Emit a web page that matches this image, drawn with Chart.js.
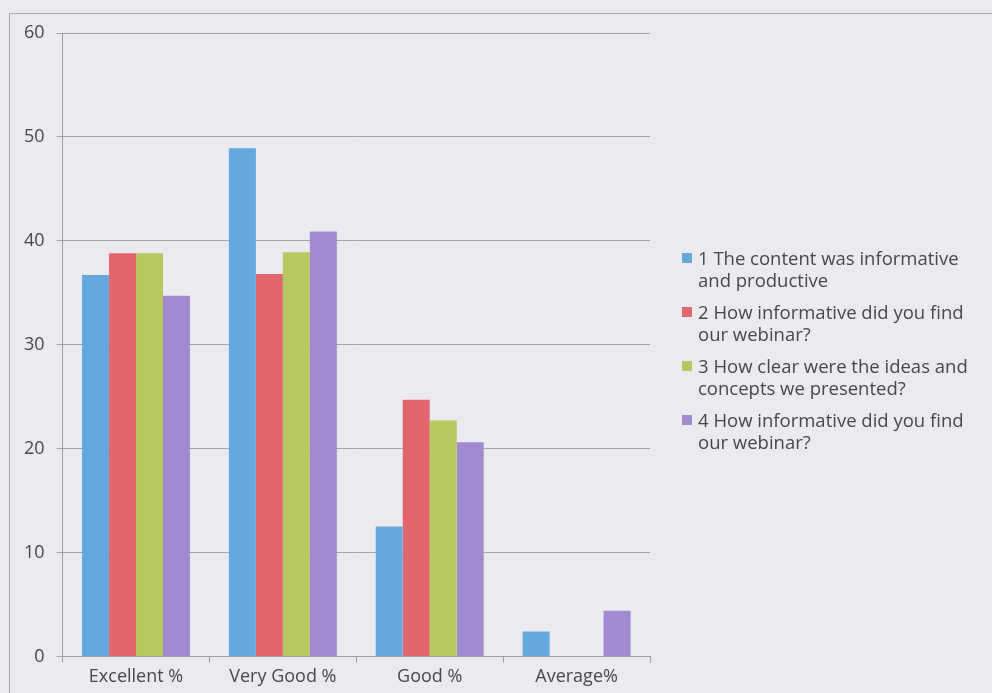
<!DOCTYPE html>
<html>
<head>
<meta charset="utf-8">
<script src="https://cdn.jsdelivr.net/npm/chart.js@4.4.1/dist/chart.umd.min.js"></script>
<style>
    html, body { margin: 0; padding: 0; background: #ebeaef; }
    #wrap { position: relative; width: 992px; height: 693px; overflow: hidden; }
    #frame { position: absolute; left: 9px; top: 13px; width: 1000px; height: 700px; border-left: 1px solid #a9a9b0; border-top: 1px solid #a9a9b0; }
    #chartCanvas { position: absolute; left: 0; top: 0; }
    #legend { position: absolute; left: 682px; top: 247px; width: 298px; font-family: "Open Sans", sans-serif; font-size: 18.5px; color: #47474c; }
    .item { display: flex; align-items: flex-start; margin-bottom: 10px; line-height: 22px; }
    .box { width: 10px; height: 10px; margin-top: 6px; margin-right: 6px; flex: none; }
</style>
</head>
<body>
<div id="wrap">
    <div id="frame"></div>
    <canvas id="chartCanvas" width="992" height="693"></canvas>
    <div id="legend"></div>
</div>
<script>
// Survey ratings per question
const categories = ['Excellent %', 'Very Good %', 'Good %', 'Average%'];
const seriesNames = [
    '1 The content was informative and productive',
    '2 How informative did you find our webinar?',
    '3 How clear were the ideas and concepts we presented?',
    '4 How informative did you find our webinar?'
];
const q1Values = [36.7, 48.9, 12.5, 2.4];
const q2Values = [38.8, 36.8, 24.7, 0];
const q3Values = [38.8, 38.9, 22.7, 0];
const q4Values = [34.7, 40.9, 20.6, 4.4];
const seriesColors = ['#63a9dd', '#e3666f', '#b6c85f', '#a18ad0'];

const allValues = [q1Values, q2Values, q3Values, q4Values];

document.addEventListener('DOMContentLoaded', function() {
    createSurveyChart();
    buildLegend();
});

function createSurveyChart() {
    const ctx = document.getElementById('chartCanvas');
    if (!ctx) {
        console.error("chartCanvas not found");
        return;
    }

    const datasets = allValues.map((vals, i) => ({
        label: seriesNames[i],
        data: vals,
        backgroundColor: seriesColors[i],
        borderWidth: 0,
        barPercentage: 1.0,
        categoryPercentage: 0.735
    }));

    new Chart(ctx, {
        type: 'bar',
        data: {
            labels: categories,
            datasets: datasets
        },
        options: {
            responsive: false,
            animation: false,
            layout: {
                padding: { left: 12, right: 342, top: 33, bottom: 1 }
            },
            plugins: {
                legend: { display: false },
                tooltip: { enabled: false }
            },
            scales: {
                x: {
                    offset: true,
                    grid: {
                        offset: true,
                        drawOnChartArea: false,
                        drawTicks: true,
                        tickLength: 6,
                        color: '#9d9da4'
                    },
                    border: { color: '#9d9da4' },
                    ticks: {
                        color: '#47474c',
                        padding: 4,
                        font: { family: 'Open Sans', size: 18 }
                    }
                },
                y: {
                    min: 0,
                    max: 60,
                    ticks: {
                        stepSize: 10,
                        color: '#47474c',
                        padding: 12,
                        font: { family: 'Open Sans', size: 18 }
                    },
                    grid: {
                        color: '#a3a3aa',
                        tickLength: 6
                    },
                    border: { color: '#9d9da4' }
                }
            }
        }
    });
}

function buildLegend() {
    const legend = document.getElementById('legend');
    seriesNames.forEach((name, i) => {
        const item = document.createElement('div');
        item.className = 'item';
        const box = document.createElement('span');
        box.className = 'box';
        box.style.background = seriesColors[i];
        const text = document.createElement('span');
        text.textContent = name;
        item.appendChild(box);
        item.appendChild(text);
        legend.appendChild(item);
    });
}
</script>
</body>
</html>
